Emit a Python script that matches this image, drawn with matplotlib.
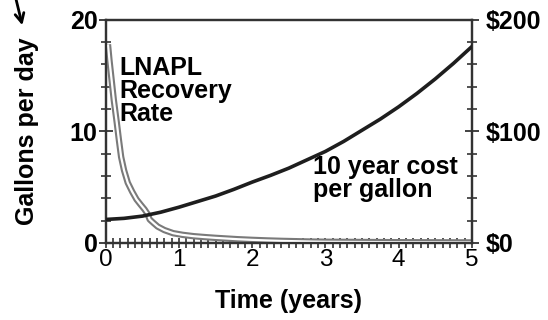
import numpy as np
import matplotlib
matplotlib.use("Agg")
import matplotlib.pyplot as plt
from matplotlib.ticker import MultipleLocator

plt.rcParams['font.family'] = ['Liberation Sans', 'DejaVu Sans']

# recovery rate (gallons per day) vs time (years)
rate_t = [0.03, 0.05, 0.08, 0.11, 0.15, 0.18, 0.21, 0.25, 0.30, 0.36,
          0.42, 0.48, 0.53, 0.57, 0.60, 0.65, 0.71, 0.80, 0.92, 1.05,
          1.2, 1.35, 1.5, 1.65, 1.8, 2.0, 2.2, 2.4, 2.6, 2.8,
          3.0, 3.5, 4.0, 4.5, 5.0]
rate_gpd = [17.8, 16.4, 14.6, 12.8, 10.8, 9.2, 7.7, 6.5, 5.4, 4.6,
            3.9, 3.4, 3.0, 2.6, 2.1, 1.8, 1.46, 1.15, 0.87, 0.72,
            0.60, 0.52, 0.45, 0.39, 0.33, 0.27, 0.22, 0.18, 0.15, 0.12,
            0.10, 0.08, 0.06, 0.05, 0.04]

# ten year cost per gallon ($) vs time (years)
cost_t = [0, 0.25, 0.5, 0.75, 1.0, 1.25, 1.5, 1.75, 2.0, 2.25, 2.5,
          2.75, 3.0, 3.25, 3.5, 3.75, 4.0, 4.25, 4.5, 4.75, 5.0]
cost_usd = [21, 22, 24, 27.5, 32, 37, 42, 48, 54.5, 60.5, 67,
            74.5, 82, 91, 101, 111, 122, 134, 147, 161, 176]

left_ticks = [0, 10, 20]
right_ticks = [0, 100, 200]
right_labels = ['$0', '$100', '$200']
x_ticks = [0, 1, 2, 3, 4, 5]

spine_col = '#333333'

fig = plt.figure(figsize=(5.48, 3.2), dpi=100)
ax = fig.add_axes([0.193, 0.241, 0.668, 0.697])
ax2 = ax.twinx()

# double-line look for the recovery curve: grey stroke with a white core
ax.plot(rate_t, rate_gpd, color='#7a7a7a', lw=4.6, solid_capstyle='butt',
        solid_joinstyle='round', zorder=3)
ax.plot(rate_t, rate_gpd, color='white', lw=1.6, solid_capstyle='butt',
        solid_joinstyle='round', zorder=4)
ax2.plot(cost_t, cost_usd, color='#1e1e1e', lw=2.6, solid_joinstyle='round', zorder=3)

ax.set_xlim(0, 5)
ax.set_ylim(0, 20)
ax2.set_ylim(0, 200)

ax.set_xticks(x_ticks)
ax.xaxis.set_minor_locator(MultipleLocator(0.1))
ax.set_yticks(left_ticks)
ax.yaxis.set_minor_locator(MultipleLocator(2))
ax2.set_yticks(right_ticks)
ax2.set_yticklabels(right_labels)
ax2.yaxis.set_minor_locator(MultipleLocator(20))

for a in (ax, ax2):
    for s in a.spines.values():
        s.set_color(spine_col)
        s.set_linewidth(1.6)

ax.tick_params(axis='y', which='major', direction='inout', length=10, width=1.3,
               color=spine_col, labelsize=18, pad=1)
ax.tick_params(axis='y', which='minor', direction='inout', length=7, width=1.2, color=spine_col)
ax.tick_params(axis='x', which='both', direction='inout', length=7, width=1.2,
               color=spine_col, labelsize=17.5, pad=1)
ax2.tick_params(axis='y', which='major', direction='inout', length=10, width=1.3,
                color=spine_col, labelsize=18, pad=5)
ax2.tick_params(axis='y', which='minor', direction='inout', length=7, width=1.2, color=spine_col)
for lab in ax.get_yticklabels() + ax2.get_yticklabels():
    lab.set_fontweight('bold')

ax.set_xlabel('Time (years)', fontsize=18, fontweight='bold', labelpad=13)
ax.set_ylabel('Gallons per day', fontsize=18, fontweight='bold', labelpad=22)

ax.text(0.038, 0.84, 'LNAPL\nRecovery\nRate', transform=ax.transAxes,
        fontsize=18, fontweight='bold', va='top', ha='left', linespacing=0.97)
ax.text(0.566, 0.395, '10 year cost\nper gallon', transform=ax.transAxes,
        fontsize=18, fontweight='bold', va='top', ha='left', linespacing=0.97)

ax.annotate('', xy=(23, 292), xycoords='figure pixels',
            xytext=(15, 325), textcoords='figure pixels',
            arrowprops=dict(arrowstyle='->', lw=2, color='black',
                            mutation_scale=16))

fig.savefig('out.png', dpi=100)
